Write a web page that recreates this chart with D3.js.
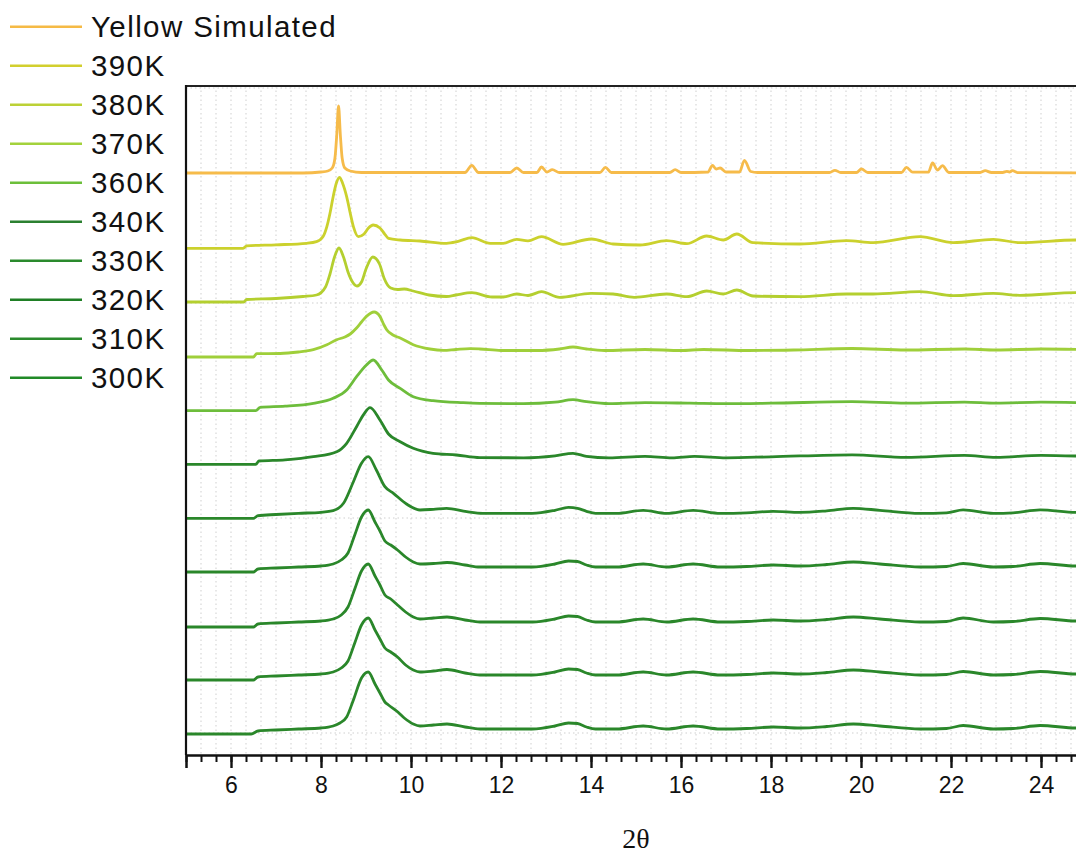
<!DOCTYPE html>
<html>
<head>
<meta charset="utf-8">
<script src="https://cdn.jsdelivr.net/npm/d3@7/dist/d3.min.js"></script>
<style>
  html, body { margin: 0; padding: 0; background: #fff; }
  svg { display: block; }
</style>
</head>
<body>
<svg id="chart" width="1076" height="853"></svg>
<script>
// ---------------- DATA ----------------
const xMajorTicks = [6, 8, 10, 12, 14, 16, 18, 20, 22, 24];
const xMinorStep = 1 / 3;
const yGridValues = [22, 237, 452, 667];

const legendLabels = ["Yellow Simulated", "390K", "380K", "370K", "360K", "340K", "330K", "320K", "310K", "300K"];
const legendColors = ["#f5ba45", "#d2cf2e", "#bcd136", "#a3d23c", "#6cbf3a", "#2b8030", "#2a8a2d", "#1f7f25", "#2a8a2d", "#218a27"];

const seriesNames = ["Yellow Simulated", "390K", "380K", "370K", "360K", "350K", "340K", "330K", "320K", "310K", "300K"];
const seriesColors = ["#f6bb4a", "#cbd12d", "#b4cf2f", "#9fcf3a", "#6dbd3b", "#2a872a", "#2a872a", "#2a872a", "#2a872a", "#2a872a", "#2a872a"];
const seriesOffsets = [582, 506.7, 453, 398, 344.3, 290.7, 236.7, 183, 128, 75, 21];

const yellowSim = [[5,0],[7.6,0],[8.0,1],[8.15,2],[8.25,5],[8.31,15],[8.35,38],[8.39,67],[8.43,38],[8.47,15],[8.53,5],[8.65,2],[8.9,0.5],[11.2,0.5],[11.35,7.7],[11.5,0.5],[12.2,0.5],[12.35,5],[12.5,0.5],[12.8,0.5],[12.9,6],[13.02,1],[13.14,3.3],[13.3,0.5],[14.2,0.5],[14.32,5.6],[14.45,0.5],[15.75,0.5],[15.87,3.3],[16.0,0.5],[16.6,1],[16.7,7.7],[16.78,4],[16.87,5],[17.0,1],[17.3,1],[17.41,12.7],[17.55,1.5],[17.7,0.5],[19.3,0.5],[19.42,2.7],[19.55,0.5],[19.9,0.5],[20.01,4],[20.15,0.5],[20.9,0.5],[21.01,5.6],[21.15,0.8],[21.5,1],[21.59,10],[21.7,3],[21.81,7.3],[21.95,0.5],[22.65,0.5],[22.76,2.3],[22.9,0.5],[23.15,0.5],[23.24,1.7],[23.3,1],[23.36,2.3],[23.5,0.3],[25,0]];

const k390 = [[5,0],[6.27,0],[6.35,2.5],[7.0,3.5],[7.68,5],[7.9,6.6],[8.05,12],[8.13,21.6],[8.2,35],[8.27,51.6],[8.34,65],[8.41,71],[8.48,65],[8.57,51.6],[8.65,35],[8.72,21.6],[8.83,11.6],[8.95,14],[9.05,20],[9.16,23.3],[9.31,20.3],[9.42,14],[9.5,10],[9.76,8.3],[10.2,7.3],[10.79,5],[11.05,7],[11.35,10.6],[11.76,5],[12.05,5],[12.35,9],[12.6,7.5],[12.9,11.6],[13.38,4],[14.01,9.3],[14.49,4.3],[15.09,3.3],[15.68,7.6],[16.13,4.6],[16.57,12.3],[16.94,8.3],[17.24,14.3],[17.6,5.6],[18.64,4.3],[19.68,7.6],[20.27,5.6],[21.31,11.6],[22.05,5.6],[22.94,9],[23.53,5.6],[24.78,8.3],[25,8]];

const k380 = [[5,0],[6.28,0],[6.35,2.5],[7.0,3.5],[7.6,5.5],[7.9,7],[8.1,15],[8.2,28],[8.3,45],[8.4,54],[8.5,45],[8.6,30],[8.7,20],[8.8,16],[8.9,20],[9.0,33],[9.15,45],[9.3,38],[9.4,24],[9.55,14],[9.7,12.5],[9.85,13],[10.05,11],[10.4,7],[10.79,5.5],[11.0,7],[11.35,9.3],[11.8,5],[12.05,5],[12.35,8],[12.6,6.5],[12.9,10.3],[13.3,4.7],[14.0,8.7],[14.49,8],[14.96,4.7],[15.68,8],[16.13,5.3],[16.57,11],[16.94,8],[17.24,12],[17.6,6],[18.64,5.3],[19.68,8],[20.27,8],[21.31,10.3],[22.05,6.3],[22.94,8.7],[23.53,6.7],[24.78,9.3],[25,9]];

const k370 = [[5,0],[6.5,0],[6.57,3.3],[7.09,3.5],[7.5,5],[7.83,7.3],[8.13,12.3],[8.35,17.3],[8.53,20],[8.65,23],[8.79,29],[8.9,35],[9.01,40.6],[9.18,45],[9.31,40.6],[9.4,32],[9.46,27.3],[9.6,22],[9.76,19],[10.05,12.3],[10.42,8],[10.72,6.6],[11.0,7.5],[11.31,8.3],[11.53,8],[12.0,6.5],[12.8,6.5],[13.3,8],[13.6,10],[13.9,8],[14.3,6.5],[15.2,7.5],[16.0,6.5],[16.5,7.5],[17.5,6.5],[18.5,7],[19.8,8.5],[21,7],[22.3,8],[23,7],[24,8],[25,7.5]];

const k360 = [[5,0],[6.55,0],[6.65,3.4],[7.2,4.5],[7.83,7.4],[8.27,12.4],[8.57,20.7],[8.79,34],[9.01,45.7],[9.16,50.7],[9.35,40.7],[9.5,30.7],[9.76,22.4],[10.05,14],[10.49,10],[11.16,8],[11.53,7.4],[12.5,7],[13.2,8.5],[13.6,11],[13.9,9],[14.4,7],[15.2,8],[16.2,7.5],[17,7],[18,7.5],[19.8,9],[21,7.5],[22.3,8.5],[23,7.5],[24,8.5],[25,8]];

const k350 = [[5,0],[6.55,0],[6.62,3.3],[7.2,4.5],[7.83,7.6],[8.35,12.6],[8.57,21],[8.79,37.6],[8.95,50],[9.09,56.6],[9.31,44.3],[9.5,30.3],[9.76,22.6],[10.05,16],[10.49,11],[11.01,9.3],[11.53,6.6],[12.5,6.5],[13.2,8.5],[13.6,11],[13.9,8],[14.4,6.5],[15.2,8],[15.8,6.5],[16.3,8],[17,6.5],[18,7.5],[19.8,9.5],[21,7],[22.3,9],[23,7],[24,9],[25,8]];

const k340 = [[5,0],[6.5,0],[6.6,2.6],[7.0,3.8],[7.5,5],[8.0,6],[8.27,7.6],[8.5,15],[8.72,36.6],[8.9,55],[9.05,61.6],[9.23,48.3],[9.42,31.6],[9.61,25],[9.9,14.3],[10.2,8.3],[10.5,9],[10.79,10],[11.24,6.6],[11.6,5],[12.0,5],[12.7,5],[13.2,8],[13.5,11],[13.7,10],[13.9,7],[14.1,5],[14.57,5],[15.16,8],[15.68,5],[16.27,8],[16.87,5],[17.46,5.5],[18.05,7],[18.64,6],[19.24,7.5],[19.83,10],[20.42,8],[21.31,5],[21.9,5.5],[22.27,8.5],[22.94,5],[23.38,5.5],[23.98,8.5],[24.78,6],[25,6]];

const k330 = [[5,0],[6.5,0],[6.6,3],[7.0,4],[7.5,5],[8.0,6],[8.27,8],[8.45,12],[8.6,19],[8.75,37],[8.9,55],[9.05,62],[9.2,50],[9.31,41],[9.42,31],[9.55,27],[9.7,22],[9.88,15],[10.05,10],[10.2,8],[10.5,8.5],[10.8,9.5],[11.2,7],[11.53,5],[12.0,5],[12.7,5],[13.2,8],[13.5,11],[13.7,10.5],[13.9,7],[14.1,5],[14.57,5],[15.16,8],[15.68,5],[16.27,8],[16.87,5],[17.46,5.5],[18.05,7],[18.64,6],[19.24,7.5],[19.83,10],[20.42,8],[21.31,5],[21.9,5.5],[22.27,8.5],[22.94,5],[23.38,5.5],[23.98,8.5],[24.78,6],[25,6]];

const k320 = [[5,0],[6.5,0],[6.6,3],[7.0,4],[7.5,5],[8.0,6],[8.27,8],[8.45,12],[8.6,20],[8.75,38],[8.9,56],[9.05,63],[9.2,51],[9.31,42],[9.42,32],[9.55,28],[9.7,22],[9.88,15],[10.05,10],[10.2,8],[10.5,9],[10.8,10],[11.2,7],[11.53,5],[12.0,5],[12.7,5],[13.2,8],[13.5,11],[13.7,10.5],[13.9,7],[14.1,5],[14.57,5],[15.16,8],[15.68,5],[16.27,8],[16.87,5],[17.46,5.5],[18.05,7],[18.64,6],[19.24,7.5],[19.83,10],[20.42,8],[21.31,5],[21.9,5.5],[22.27,9],[22.94,5],[23.38,5.5],[23.98,8.5],[24.78,6],[25,6]];

const k310 = [[5,0],[6.5,0],[6.6,3],[7.0,4],[7.5,5],[8.0,6],[8.27,8],[8.45,12],[8.6,19],[8.75,37],[8.9,55],[9.05,62],[9.2,50],[9.31,41],[9.42,32],[9.55,28],[9.7,23],[9.88,15],[10.05,10],[10.2,8],[10.5,9],[10.8,10.5],[11.2,7],[11.53,5],[12.0,5],[12.7,5],[13.2,8],[13.5,11],[13.7,10.5],[13.9,7],[14.1,5],[14.57,5],[15.16,8],[15.68,5],[16.27,8],[16.87,5],[17.46,5.5],[18.05,7],[18.64,6],[19.24,7.5],[19.83,10],[20.42,8],[21.31,5],[21.9,5.5],[22.27,8.5],[22.94,5],[23.38,5.5],[23.98,8.5],[24.78,6],[25,6]];

const k300 = [[5,0],[6.45,0],[6.6,3],[7.0,4],[7.5,5],[8.0,6],[8.27,8],[8.42,11],[8.57,17],[8.72,34],[8.9,56],[9.05,62],[9.2,50],[9.31,41],[9.42,32],[9.5,29],[9.68,23],[9.85,16],[10.05,10],[10.2,8],[10.5,9],[10.8,10],[11.2,7],[11.53,5],[12.0,5],[12.7,5],[13.2,8],[13.5,11],[13.7,10.5],[13.9,7],[14.1,5],[14.57,5],[15.16,8],[15.68,5],[16.27,8],[16.87,5],[17.46,5.5],[18.05,7],[18.64,6],[19.24,7.5],[19.83,10],[20.42,8],[21.31,5],[21.9,5.5],[22.27,8.5],[22.94,5],[23.38,5.5],[23.98,8.5],[24.78,6],[25,6]];

const seriesData = [yellowSim, k390, k380, k370, k360, k350, k340, k330, k320, k310, k300];

// ---------------- CHART ----------------
const svg = d3.select("#chart");
const plot = { left: 186, top: 86, right: 1086, bottom: 755 };

const x = d3.scaleLinear().domain([5, 25]).range([plot.left, plot.right]);
const y = d3.scaleLinear().domain([0, 669]).range([plot.bottom, plot.top]);

svg.append("defs").append("clipPath").attr("id", "clip")
  .append("rect").attr("x", plot.left).attr("y", plot.top)
  .attr("width", plot.right - plot.left).attr("height", plot.bottom - plot.top);

// grid
const minorTicks = d3.range(5, 25.001, xMinorStep);
const grid = svg.append("g");
grid.selectAll("line.vg").data(minorTicks).join("line")
  .attr("x1", d => x(d)).attr("x2", d => x(d))
  .attr("y1", plot.top).attr("y2", plot.bottom)
  .attr("stroke", "#cfcfcf").attr("stroke-width", 1)
  .attr("stroke-dasharray", "1.5,3");
grid.selectAll("line.hg").data(yGridValues).join("line")
  .attr("x1", plot.left).attr("x2", plot.right)
  .attr("y1", d => y(d)).attr("y2", d => y(d))
  .attr("stroke", "#cfcfcf").attr("stroke-width", 1)
  .attr("stroke-dasharray", "1.5,3");

// curves
const line = d3.line()
  .x(d => x(d[0]))
  .curve(d3.curveMonotoneX);

const curves = svg.append("g").attr("clip-path", "url(#clip)");
seriesData.forEach((data, i) => {
  curves.append("path")
    .datum(data)
    .attr("fill", "none")
    .attr("stroke", seriesColors[i])
    .attr("stroke-width", 2.8)
    .attr("stroke-linejoin", "round")
    .attr("d", line.y(d => y(d[1] + seriesOffsets[i])));
});

// frame
svg.append("line").attr("x1", plot.left).attr("x2", plot.right)
  .attr("y1", plot.top).attr("y2", plot.top)
  .attr("stroke", "#222").attr("stroke-width", 2);
svg.append("line").attr("x1", plot.left).attr("x2", plot.left)
  .attr("y1", plot.top - 1).attr("y2", plot.bottom)
  .attr("stroke", "#111").attr("stroke-width", 2.2);

// x axis
const xAxisMinor = d3.axisBottom(x).tickValues(minorTicks).tickSize(7).tickFormat("");
const xAxisMajor = d3.axisBottom(x).tickValues(xMajorTicks).tickSize(13).tickFormat(d3.format("d")).tickPadding(9);

const gMinor = svg.append("g").attr("transform", `translate(0,${plot.bottom})`).call(xAxisMinor);
gMinor.select(".domain").remove();
gMinor.selectAll("line").attr("stroke", "#111").attr("stroke-width", 2);

const gMajor = svg.append("g").attr("transform", `translate(0,${plot.bottom})`).call(xAxisMajor);
gMajor.select(".domain").attr("stroke", "#111").attr("stroke-width", 2.5);
gMajor.selectAll("line").attr("stroke", "#111").attr("stroke-width", 2.4);
gMajor.selectAll("text")
  .attr("font-family", "Liberation Sans, Arial, sans-serif")
  .attr("font-size", 23)
  .attr("fill", "#111");

// x label
svg.append("text")
  .attr("x", 636).attr("y", 848)
  .attr("text-anchor", "middle")
  .attr("font-family", "Liberation Serif, Times New Roman, serif")
  .attr("font-size", 28)
  .attr("fill", "#111")
  .text("2θ");

// legend
const legend = svg.append("g");
legendLabels.forEach((lab, i) => {
  const ly = 26.7 + i * 39;
  legend.append("line")
    .attr("x1", 10).attr("x2", 82)
    .attr("y1", ly).attr("y2", ly)
    .attr("stroke", legendColors[i]).attr("stroke-width", 2.4);
  legend.append("text")
    .attr("x", 91).attr("y", ly + 10.5)
    .attr("font-family", "Liberation Sans, Arial, sans-serif")
    .attr("font-size", 29.5)
    .attr("letter-spacing", 1.4)
    .attr("fill", "#111")
    .text(lab);
});
</script>
</body>
</html>
